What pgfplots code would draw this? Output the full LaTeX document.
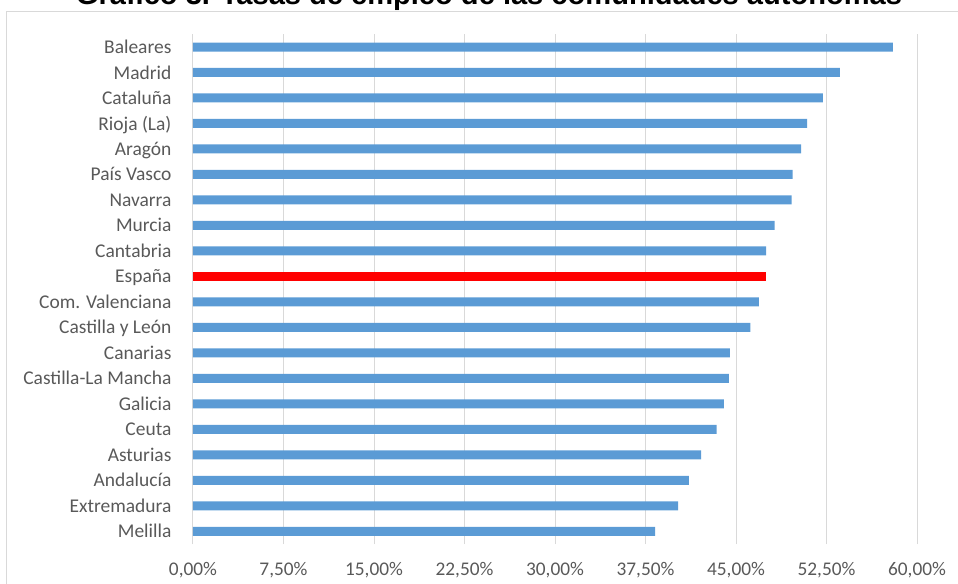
\documentclass[border=0pt]{standalone}
\usepackage{pgfplots}
\pgfplotsset{compat=1.18}
\usepackage{fontspec}
\setmainfont{Carlito}
\newfontfamily\titlefont{Liberation Sans}
\definecolor{barblue}{HTML}{5B9BD5}
\definecolor{barred}{HTML}{FF0000}
\definecolor{gridgray}{HTML}{D9D9D9}
\definecolor{labelgray}{HTML}{595959}
\begin{document}
\begin{tikzpicture}[x=0.75pt,y=0.75pt]
\useasboundingbox (0,0) rectangle (958,583);
\draw[color=gridgray, line width=0.75pt] (6,-5) -- (6,571.3) -- (965,571.3);
\node[anchor=base, inner sep=0pt] at (489,578.3) {\resizebox{619.5pt}{!}{\titlefont\bfseries Gráfico 3. Tasas de empleo de las comunidades autónomas}};
\coordinate (axsw) at (193,39);
\begin{axis}[
  at={(axsw)}, anchor=south west,
  scale only axis, width=543pt, height=382.3pt,
  xmin=0, xmax=60, ymin=-0.5, ymax=19.5,
  axis line style={draw=none},
  major tick length=0pt,
  xmajorgrids,
  grid style={gridgray, line width=0.75pt},
  xtick={0,7.5,15,22.5,30,37.5,45,52.5,60},
  xticklabels={{0,00\%},{7,50\%},{15,00\%},{22,50\%},{30,00\%},{37,50\%},{45,00\%},{52,50\%},{60,00\%}},
  ytick={0,...,19},
  yticklabels={Melilla,Extremadura,Andalucía,Asturias,Ceuta,Galicia,Castilla-La Mancha,Canarias,Castilla y León,Com. Valenciana,España,Cantabria,Murcia,Navarra,País Vasco,Aragón,Rioja (La),Cataluña,Madrid,Baleares},
  xticklabel style={font=\fontsize{14.5pt}{17pt}\selectfont, text=labelgray, inner sep=0pt, anchor=base, yshift=-23.5pt},
  yticklabel style={font=\fontsize{14.6pt}{17pt}\selectfont, text=labelgray, inner sep=0pt, anchor=base east, xshift=-16pt, yshift=-4.9pt},
  xbar, bar width=6.75pt, bar shift=0pt,
]
\addplot[fill=barblue, draw=none] coordinates {
(38.3,0) (40.2,1) (41.1,2) (42.1,3) (43.4,4) (44.0,5) (44.4,6) (44.5,7) (46.2,8) (46.9,9)
(47.5,11) (48.2,12) (49.6,13) (49.7,14) (50.4,15) (50.9,16) (52.2,17) (53.6,18) (58.0,19)
};
\addplot[fill=barred, draw=none] coordinates {(47.5,10)};
\end{axis}
\end{tikzpicture}
\end{document}
